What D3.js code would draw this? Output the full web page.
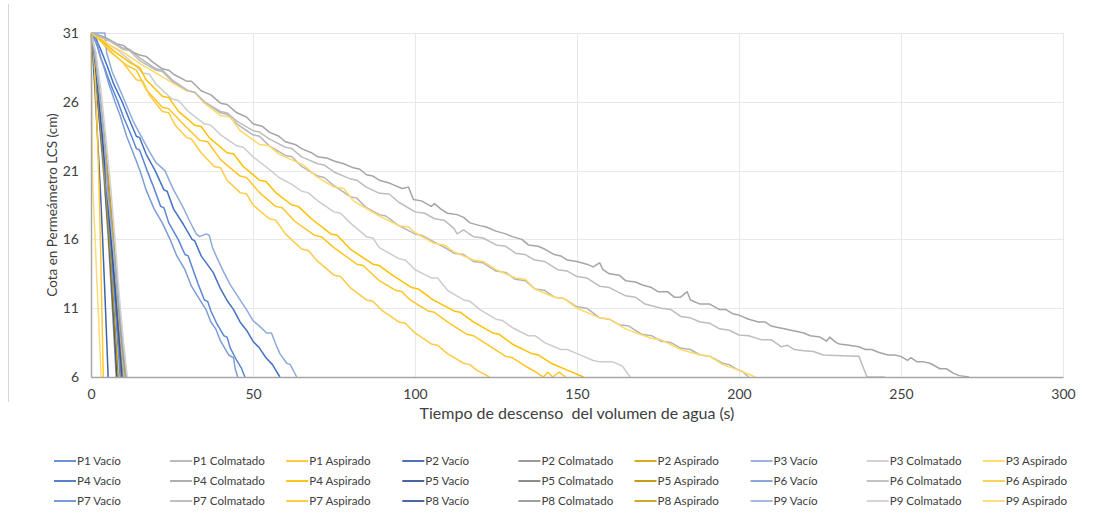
<!DOCTYPE html>
<html>
<head>
<meta charset="utf-8">
<script src="https://cdn.jsdelivr.net/npm/d3@7"></script>
<style>
  body { margin: 0; background: #fff; }
  text { font-family: Lato, "Open Sans", sans-serif; fill: #404040; }
</style>
</head>
<body>
<svg id="chart" width="1106" height="515"></svg>
<script>
// Falling-head tests in the LCS permeameter: water level (cm) vs elapsed time (s)
// Each series: [time s, level cm]

// ---- P1 ----
const p1Vacio = [[0,31],[1,30.6],[2,30],[3,29.2],[4,28.6],[6,27.3],[8.3,26],[10,24.9],[12,23.8],[14,22.6],[15,22.5],[17.3,21],[19,20],[21.5,18.4],[22.5,18.3],[24,17.2],[26.9,16],[29,14.9],[30,14.8],[31.5,13.8],[33,12.8],[35,11.6],[36,11.5],[37,10.8],[39,9.8],[41,9.0],[42,8.9],[43,8.1],[45,7.2],[46.5,6.6],[47.5,6]];
const p1Colmatado = [[0,31],[3,30.7],[5,30.5],[10,29.9],[12,29.8],[15,29.2],[20,28.4],[22,28.3],[25,27.6],[30,26.8],[32,26.7],[35,26.0],[40,25.2],[42,25.1],[45,24.4],[50,23.6],[52,23.5],[55,22.8],[60,22.1],[62,22.0],[65,21.3],[70,20.6],[72,20.5],[75,19.9],[80,19.1],[82,19.0],[85,18.3],[89,17.8],[91,17.7],[95,17.0],[100,16.4],[102,16.3],[106,15.8],[110,15.3],[112,15.0],[115,14.9],[118,14.4],[121,14.3],[125,13.7],[128,13.6],[131,13.1],[134,13.0],[137,12.4],[140,12.3],[143,11.8],[146,11.7],[150,11.1],[153,11.0],[157,10.3],[160,10.2],[163,9.8],[166,9.7],[170,9.1],[173,9.0],[176,8.6],[179,8.5],[182,8.1],[185,8.0],[188,7.6],[191,7.5],[195,7.0],[197,6.9],[199,6.6],[201,6.4],[203,6]];
const p1Aspirado = [[0,31],[3,30.4],[6,29.6],[11.4,28.6],[14,28.3],[17,26.9],[22,25.6],[24,25.5],[28,24.5],[33.5,23.2],[36,23.1],[40,21.8],[46,20.6],[48,20.5],[52,19.4],[57,18.4],[59,18.3],[63,17.3],[69,16.3],[71,16.2],[75,15.4],[82,14.2],[84,14.1],[89,13.0],[94,12.3],[96,12.2],[98.5,11.6],[104,10.8],[106,10.7],[110,10.0],[116,9.1],[118,9.0],[122,8.4],[128,7.5],[130,7.4],[134,6.8],[137,6.4],[139.6,6.0],[141,6.35],[142.5,6.0],[144.5,6.35],[146.5,6]];

// ---- P2 ----
const p2Vacio = [[0,31],[0.5,29.5],[1.2,27],[2,23.5],[2.8,20],[3.5,16.5],[4.3,12],[4.8,9],[5.3,6]];
const p2Colmatado = [[0,31],[0.8,29.3],[2,26.2],[3.2,22.8],[4.3,19.6],[5.4,15.8],[6.6,11],[7.8,6]];
const p2Aspirado = [[0,31],[0.8,29.6],[2,27],[3.2,24],[4.3,20.6],[4.6,19.9],[5.3,19.6],[5.6,18.5],[6.7,15],[7.8,11.8],[8.9,8.8],[10,6]];

// ---- P3 ----
const p3Vacio = [[0,31],[4.3,31],[4.8,29.6],[6.5,28.2],[8.5,27.1],[10.5,26],[13,24.6],[15,23.7],[18,22.4],[20,21.6],[22.8,21],[25.5,19.6],[28.5,18.3],[30.5,17.3],[32.5,16.4],[33.5,16.2],[35.5,16.4],[36.5,16.3],[37.5,15.4],[39,14.6],[41,13.6],[43,12.7],[46,11.6],[48,10.9],[50,10.1],[52,9.7],[54.2,9.2],[55.7,9.2],[57,8.4],[58.3,7.7],[60.4,7.0],[61.5,6.9],[63.5,6]];
const p3Colmatado = [[0,31],[3,30.5],[8,29.8],[12,29.0],[16,28.1],[18,28.0],[20,27.3],[25,26.2],[27,26.1],[30,25.3],[35,24.4],[37,24.3],[40,23.6],[45,22.8],[47,22.7],[50,22.0],[55,21.1],[58,20.5],[62,20.0],[65,19.5],[67,19.4],[70,18.8],[75,18.0],[77,17.9],[80,17.2],[85,16.2],[87,16.1],[89,15.4],[95,14.6],[97,14.5],[100,13.8],[105,13.2],[107,13.2],[110,12.3],[115,11.6],[117,11.5],[120,10.9],[125,10.2],[127,10.1],[130,9.6],[135,9.0],[137,9.0],[140,8.5],[145,8.0],[147,8.0],[150,7.7],[155,7.2],[157,7.1],[161,7.1],[164,6.8],[166.4,6]];
const p3Aspirado = [[0,31],[3,30.6],[6,30.1],[10,29.6],[15,28.8],[20,28.1],[25,27.4],[29.5,26.8],[32,26.7],[35,25.9],[40,25.0],[43,24.9],[46,23.9],[52,22.9],[55,22.8],[58,22.2],[65.6,21.4],[70,20.5],[75,19.8],[78,19.7],[81,18.8],[89,17.7],[95,17.0],[98,16.9],[100,16.5],[106,15.7],[109,15.6],[112,15.1],[118,14.5],[121,14.4],[125,13.8],[131,13.2],[134,13.1],[137,12.4],[143,11.8],[146,11.7],[150,11.0],[157,10.3],[160,10.2],[165,9.5],[173,8.8],[176,8.7],[182,8.0],[188,7.6],[191,7.5],[195,6.9],[200,6.5],[203,6.2],[205,6]];

// ---- P4 ----
const p4Vacio = [[0,31],[1.5,30.6],[3,29.8],[5,28.6],[7,27.3],[9.6,26],[12,24.6],[14,23.5],[15,23.4],[17,22.2],[19.8,21],[22.5,19.6],[23.5,19.5],[25.5,18.2],[28.5,17.1],[31.2,16],[32,15.9],[34,14.8],[37.7,13.6],[40,12.4],[41.9,11.6],[44,10.9],[46,10],[48,9.4],[50,8.6],[52,8.1],[54,7.4],[56,6.9],[58.3,6]];
const p4Colmatado = [[0,31],[3,30.8],[5,30.6],[8,30.2],[10,30.1],[12,29.7],[15,29.4],[17,29.3],[19,28.9],[22,28.4],[24,28.3],[25.5,28.0],[29.5,27.5],[31,27.5],[34,26.8],[37,26.5],[40,25.9],[42,25.8],[45,25.2],[48,24.9],[50,24.4],[53,24.2],[55,23.8],[58,23.5],[60,23.1],[63,22.9],[65,22.6],[68,22.3],[70,22.0],[73,21.9],[75,21.7],[78,21.5],[81,21.2],[83,21.1],[85,20.7],[87,20.6],[89,20.3],[92,20.1],[93,20.0],[96,19.7],[98,19.8],[99.5,18.9],[102,18.8],[105,18.4],[106,18.6],[108,18.2],[110,17.9],[113,17.8],[115,17.6],[117,17.2],[120,17.0],[122,16.9],[125,16.6],[128,16.4],[130,16.2],[133,16.0],[135,15.6],[138,15.5],[140,15.3],[143,14.9],[145,14.8],[147,14.5],[150,14.4],[153,14.2],[155,14.0],[157,14.3],[158,13.8],[160,13.5],[163,13.4],[165,13.0],[168,12.9],[170,12.7],[173,12.5],[175,12.2],[178,12.2],[180,11.8],[182,11.8],[184,12.2],[185,11.6],[188,11.3],[191,11.3],[194,10.9],[196,10.9],[198,10.6],[200,10.5],[203,10.2],[206,10.0],[208,10.0],[210,9.7],[212,9.6],[214,9.5],[216,9.4],[218,9.3],[220,9.2],[222,9.0],[225,8.9],[227,8.6],[228,8.9],[230,8.5],[231,8.4],[234,8.3],[237,8.2],[239,8.0],[241,8.0],[243,7.8],[246,7.6],[248,7.6],[250,7.5],[252,7.2],[253,7.4],[255,7.1],[257,7.1],[259,7.0],[262,6.6],[264,6.6],[266,6.3],[268,6.1],[271,6]];
const p4Aspirado = [[0,31],[3,30.5],[7,29.7],[12.4,28.8],[15,28.5],[17,27.6],[22,26.4],[24,26.3],[27,25.3],[32,24.3],[34,24.2],[36.5,23.4],[42,22.3],[44,22.2],[47,21.3],[52,20.3],[54,20.2],[57,19.4],[62,18.5],[64,18.4],[68,17.5],[74,16.4],[76,16.3],[80,15.3],[87,14.2],[89,14.1],[93,13.4],[99,12.5],[101,12.4],[105.6,11.6],[112,10.8],[114,10.7],[118,10.0],[124,9.2],[126,9.1],[130,8.4],[136,7.7],[138,7.6],[142,7.0],[147,6.5],[152,6]];

// ---- P5 ----
const p5Vacio = [[0,31],[0.6,30],[1.5,27.8],[2.5,25],[3.5,22.5],[4.3,21],[4.5,19.2],[5.3,17],[6.2,13.5],[7.1,10],[8,6]];
const p5Colmatado = [[0,31],[1,29.6],[2.2,27],[3.4,24],[4.5,21],[4.8,19.5],[6,16.5],[7.2,13],[8.3,9.3],[9.3,6]];
const p5Aspirado = [[0,31],[0.7,29.8],[1.8,27.3],[3,24],[4.1,21],[5.2,17.5],[6.3,13.8],[7.4,9.8],[8.4,6]];

// ---- P6 ----
const p6Vacio = [[0,31],[1,30.5],[2,30.2],[3,29.2],[4,28.5],[5.5,27.3],[7.4,26],[9,25],[11,23.5],[13,22.3],[15.1,21],[17,19.6],[19.5,18.2],[22,17.2],[24.4,16],[26.5,14.8],[29,13.8],[31,12.6],[33.6,11.6],[35.5,10.9],[37,10],[38.5,9.5],[40,8.6],[41.5,8.0],[42.5,7.6],[44,7.4],[44.5,6.6],[45.3,6]];
const p6Colmatado = [[0,31],[3,30.7],[6,30.4],[10,29.8],[12,29.7],[15,29.0],[20,28.3],[22,28.2],[25,27.5],[30,26.8],[32,26.7],[35,26.0],[40,25.3],[42,25.2],[45,24.6],[50,23.9],[52,23.8],[55,23.3],[60,22.7],[62,22.6],[65,22.0],[70,21.5],[72,21.4],[75,20.9],[80,20.4],[82,20.3],[85,19.8],[89,19.35],[92,19.3],[95,18.7],[100,18.0],[103,17.9],[106,17.5],[109,17.4],[112,16.8],[113,16.4],[115,16.7],[118,16.2],[121,16.1],[125,15.6],[128,15.5],[131,15.0],[134,14.9],[137,14.5],[140,14.4],[144,13.8],[147,13.7],[150,13.3],[153,13.2],[157,12.6],[160,12.5],[165,11.9],[168,11.8],[171,11.3],[176,11.0],[179,10.9],[182,10.4],[185,10.3],[188,10.0],[191,9.9],[194,9.5],[197,9.4],[200,9.05],[203,9.0],[207,8.7],[210,8.7],[213,8.2],[215,8.3],[217,8.0],[220,7.9],[223,7.85],[226,7.6],[232,7.55],[237,7.5],[239.5,6.0],[245,6.0]];
const p6Aspirado = [[0,31],[3,30.4],[6,29.7],[10,28.8],[14,27.6],[16,27.5],[18,26.5],[22,25.3],[24,25.2],[26,24.3],[29.5,23.4],[31,23.3],[34,22.3],[38,21.3],[40,21.2],[42,20.3],[46,19.4],[48,19.3],[50,18.5],[55,17.5],[57,17.4],[60,16.4],[65,15.3],[67,15.2],[70,14.4],[75,13.4],[77,13.3],[80,12.5],[85,11.6],[87,11.5],[90,10.8],[95,10.0],[97,9.9],[100,9.2],[105,8.4],[107,8.3],[110,7.7],[115,7.0],[117,6.9],[119,6.5],[123,6]];

// ---- P7 ----
const p7Vacio = [[0,31],[0.8,29.8],[2,27],[3.2,24],[4.4,20.8],[5.5,17.5],[6.6,14],[7.8,10],[9,6]];
const p7Colmatado = [[0,31],[1,29.8],[2.4,27],[3.8,23.8],[5.2,20.2],[6.5,16.5],[7.8,12.8],[9,9.2],[10.2,6]];
const p7Aspirado = [[0,31],[0.7,30.2],[1.3,27.5],[1.9,24],[2.4,20.5],[2.9,16],[3.3,11.5],[3.8,6]];

// ---- P8 ----
const p8Vacio = [[0,31],[1,29.5],[2.2,26.8],[3.5,23.5],[4.8,20],[6,16.5],[7.2,13],[8.4,9.5],[9.6,6]];
const p8Colmatado = [[0,31],[1.2,29.5],[2.6,26.6],[4,23.3],[5.4,19.8],[6.8,16],[8.2,12],[9.4,8.8],[10.6,6]];
const p8Aspirado = [[0,31],[1,29.8],[2.5,27],[4,23.8],[5.4,20.4],[6.8,16.6],[8.2,12.6],[9.5,9.2],[10.8,6]];

// ---- P9 ----
const p9Vacio = [[0,31],[1,29.8],[2.5,27],[4,23.5],[4.6,21.5],[4.9,19.8],[6,17.5],[7.5,14],[9,10.5],[10,8.2],[11,6]];
const p9Colmatado = [[0,31],[1.5,29.6],[3,27],[4.5,23.6],[6,20],[7.4,16],[8.7,12],[10,8.6],[11.2,6]];
const p9Aspirado = [[0,31],[0.2,27],[0.4,22],[0.6,19.5],[1.2,16.5],[1.8,13],[2.5,9.5],[3.1,6]];

// Series names, in legend order
const seriesNames = [
  "P1 Vacío","P1 Colmatado","P1 Aspirado","P2 Vacío","P2 Colmatado","P2 Aspirado","P3 Vacío","P3 Colmatado","P3 Aspirado",
  "P4 Vacío","P4 Colmatado","P4 Aspirado","P5 Vacío","P5 Colmatado","P5 Aspirado","P6 Vacío","P6 Colmatado","P6 Aspirado",
  "P7 Vacío","P7 Colmatado","P7 Aspirado","P8 Vacío","P8 Colmatado","P8 Aspirado","P9 Vacío","P9 Colmatado","P9 Aspirado"
];
const seriesData = [
  p1Vacio,p1Colmatado,p1Aspirado,p2Vacio,p2Colmatado,p2Aspirado,p3Vacio,p3Colmatado,p3Aspirado,
  p4Vacio,p4Colmatado,p4Aspirado,p5Vacio,p5Colmatado,p5Aspirado,p6Vacio,p6Colmatado,p6Aspirado,
  p7Vacio,p7Colmatado,p7Aspirado,p8Vacio,p8Colmatado,p8Aspirado,p9Vacio,p9Colmatado,p9Aspirado
];
const xTicks = [0,50,100,150,200,250,300];
const yTicks = [6,11,16,21,26,31];

// Line colours: blue / grey / gold families with shade variants per test
const palette = [
  "#5a86d5","#b4b4b4","#ffc526","#3b63ae","#8f8f8f","#d6a10a","#8eaadb","#cccccc","#ffd966",
  "#4472c4","#a5a5a5","#ffc000","#2f5597","#7f7f7f","#bf9000","#7d9dd7","#bdbdbd","#ffcb45",
  "#6a90d6","#b9b9b9","#ffc933","#36589a","#959595","#cc9e17","#9ab3e0","#d0d0d0","#ffdb75"
];

const svg = d3.select("#chart");
const plot = {left: 91, right: 1063, top: 33, bottom: 377};

const x = d3.scaleLinear().domain([0, 300]).range([plot.left, plot.right]);
const y = d3.scaleLinear().domain([6, 31]).range([plot.bottom, plot.top]);

// page edge line on the left
svg.append("line").attr("x1", 8.5).attr("x2", 8.5).attr("y1", 4).attr("y2", 402)
  .attr("stroke", "#d6d6d6").attr("stroke-width", 1);

// gridlines
const grid = svg.append("g");
grid.selectAll("line.h").data(yTicks.filter(d => d !== 6)).join("line")
  .attr("x1", plot.left).attr("x2", plot.right)
  .attr("y1", d => Math.round(y(d)) + 0.5).attr("y2", d => Math.round(y(d)) + 0.5)
  .attr("stroke", "#e8e8e8").attr("stroke-width", 1);
grid.selectAll("line.v").data(xTicks.filter(d => d !== 0)).join("line")
  .attr("y1", plot.top).attr("y2", plot.bottom)
  .attr("x1", d => Math.round(x(d)) + 0.5).attr("x2", d => Math.round(x(d)) + 0.5)
  .attr("stroke", "#e8e8e8").attr("stroke-width", 1);

// series lines
const line = d3.line().x(d => x(d[0])).y(d => y(d[1]));
svg.append("g").selectAll("path").data(seriesData).join("path")
  .attr("d", line)
  .attr("fill", "none")
  .attr("stroke", (d, i) => palette[i])
  .attr("stroke-width", 1.5)
  .attr("stroke-linejoin", "round");

// axes
const xAxis = svg.append("g").attr("transform", `translate(0,${plot.bottom})`)
  .call(d3.axisBottom(x).tickValues(xTicks).tickSize(0).tickPadding(12));
const yAxis = svg.append("g").attr("transform", `translate(${plot.left},0)`)
  .call(d3.axisLeft(y).tickValues(yTicks).tickSize(0).tickPadding(12));
[xAxis, yAxis].forEach(a => {
  a.select(".domain").attr("stroke", "#a6a6a6").attr("stroke-width", 1.5);
  a.selectAll("text").style("font-family", "Lato, 'Open Sans', sans-serif")
    .style("font-size", "14px").attr("fill", "#404040");
});

// axis titles
svg.append("text")
  .attr("x", 577).attr("y", 419)
  .attr("text-anchor", "middle").style("font-size", "16px").style("white-space", "pre")
  .text("Tiempo de descenso  del volumen de agua (s)");
svg.append("text")
  .attr("transform", `translate(57,205) rotate(-90)`)
  .attr("text-anchor", "middle").style("font-size", "13.5px")
  .text("Cota en Permeámetro LCS (cm)");

// legend: 9 columns x 3 rows
const legend = svg.append("g");
seriesNames.forEach((name, i) => {
  const col = i % 9, row = Math.floor(i / 9);
  const lx = 54 + col * 116.1, ly = 461 + row * 20;
  const g = legend.append("g").attr("transform", `translate(${lx},${ly})`);
  g.append("line").attr("x1", 0).attr("x2", 22).attr("y1", 0).attr("y2", 0)
    .attr("stroke", palette[i]).attr("stroke-width", 1.8);
  g.append("text").attr("x", 23).attr("y", 0).attr("dy", "0.35em")
    .style("font-size", "11.6px").text(name);
});
</script>
</body>
</html>
